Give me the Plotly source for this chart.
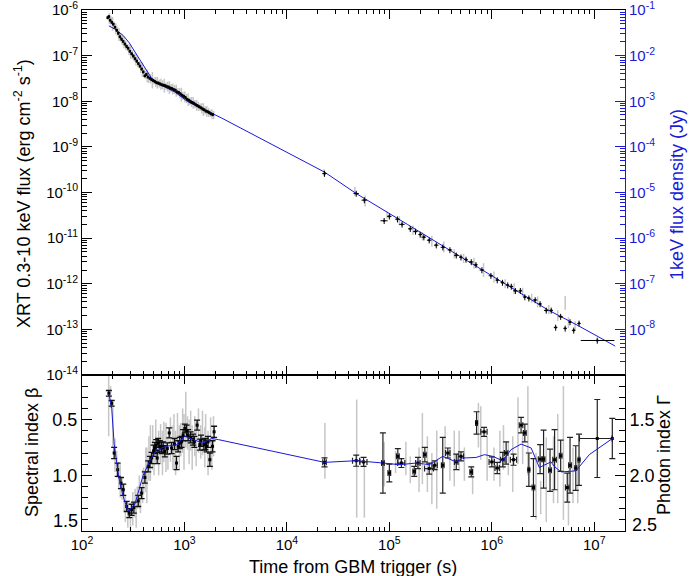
import plotly.graph_objects as go

# ---------------- DATA ----------------
# Top panel: XRT flux (erg cm^-2 s^-1), early dense phase (black)
top_early_t = [178, 183, 188, 195, 202, 210, 218, 226, 234, 243,
               252, 262, 272, 282, 293, 305, 317, 329, 342, 355,
               368, 382, 396, 410, 425, 440, 458, 476, 495, 515,
               535, 556, 578, 600, 624, 648, 673, 700, 727, 755,
               785, 815, 847, 880, 915, 950, 987, 1025, 1065, 1107,
               1150, 1195, 1240, 1290, 1340, 1392, 1446, 1502, 1560, 1620,
               1685, 1750, 1820, 1890]
top_early_f = [6.8e-7, 7.2e-7, 6.0e-7, 5.4e-7, 4.9e-7, 4.2e-7, 3.6e-7, 3.1e-7, 2.6e-7, 2.3e-7,
               2.05e-7, 1.8e-7, 1.6e-7, 1.45e-7, 1.25e-7, 1.1e-7, 9.8e-8, 8.6e-8, 7.6e-8, 6.7e-8,
               5.9e-8, 5.1e-8, 4.4e-8, 3.6e-8, 3.9e-8, 3.4e-8, 3.2e-8, 3.0e-8, 2.85e-8, 2.7e-8,
               2.55e-8, 2.5e-8, 2.4e-8, 2.3e-8, 2.25e-8, 2.2e-8, 2.1e-8, 2.05e-8, 1.95e-8, 1.9e-8,
               1.8e-8, 1.75e-8, 1.6e-8, 1.55e-8, 1.45e-8, 1.35e-8, 1.28e-8, 1.2e-8, 1.1e-8, 1.05e-8,
               9.8e-9, 9.4e-9, 9.0e-9, 8.4e-9, 8.0e-9, 7.6e-9, 7.2e-9, 6.8e-9, 6.5e-9, 6.1e-9,
               5.9e-9, 5.6e-9, 5.3e-9, 5.1e-9]

# Top panel grey (finer binning)
top_grey_t = [185, 192, 199, 206, 214, 222, 230, 238, 247, 257,
              267, 277, 288, 299, 311, 323, 336, 349, 362, 375,
              389, 403, 418, 433, 449, 467, 486, 505, 525, 545,
              567, 589, 612, 636, 660, 686, 713, 741, 770, 800,
              831, 863, 897, 932, 968, 1006, 1045, 1086, 1128, 1172,
              1217, 1265, 1315, 1366, 1419, 1474, 1531, 1590, 1652, 1717,
              1785, 1855, 1930,
              2.3e4, 4.6e4, 5.8e4, 9.5e4, 1.25e5, 1.7e5, 2.1e5, 2.6e5, 3.4e5, 4.3e5,
              5.3e5, 6.7e5, 8.3e5, 1.05e6, 1.35e6, 1.65e6, 2.0e6, 2.45e6, 2.8e6, 3.6e6,
              4.4e6, 5.2e6, 5.6e6, 6.5e6]
top_grey_f = [6.5e-7, 5.8e-7, 5.0e-7, 4.6e-7, 3.9e-7, 3.4e-7, 2.9e-7, 2.5e-7, 2.2e-7, 1.95e-7,
              1.7e-7, 1.5e-7, 1.35e-7, 1.2e-7, 1.05e-7, 9.2e-8, 8.2e-8, 7.2e-8, 6.3e-8, 5.5e-8,
              4.9e-8, 4.3e-8, 3.8e-8, 3.6e-8, 3.3e-8, 3.1e-8, 2.9e-8, 2.8e-8, 2.65e-8, 2.55e-8,
              2.45e-8, 2.35e-8, 2.3e-8, 2.2e-8, 2.15e-8, 2.1e-8, 2.0e-8, 1.95e-8, 1.85e-8, 1.8e-8,
              1.7e-8, 1.6e-8, 1.5e-8, 1.4e-8, 1.32e-8, 1.25e-8, 1.15e-8, 1.08e-8, 1.0e-8, 9.6e-9,
              9.2e-9, 8.7e-9, 8.2e-9, 7.8e-9, 7.4e-9, 7.0e-9, 6.6e-9, 6.3e-9, 6.0e-9, 5.7e-9,
              5.4e-9, 5.2e-9, 5.0e-9,
              2.7e-10, 1.05e-10, 6.5e-11, 3.2e-11, 2.4e-11, 1.5e-11, 1.1e-11, 8.5e-12, 6.4e-12, 4.5e-12,
              3.6e-12, 2.8e-12, 2.0e-12, 1.4e-12, 1.0e-12, 7.8e-13, 6.5e-13, 4.8e-13, 4.0e-13, 2.7e-13,
              2.0e-13, 3.8e-13, 1.4e-13, 1.2e-13]
top_grey_dex = [0.12, 0.10, 0.15, 0.08, 0.12, 0.10, 0.14, 0.09, 0.11, 0.13,
                0.10, 0.08, 0.12, 0.15, 0.10, 0.09, 0.13, 0.11, 0.08, 0.12,
                0.16, 0.10, 0.09, 0.14, 0.12, 0.10, 0.18, 0.08, 0.11, 0.13,
                0.09, 0.12, 0.10, 0.15, 0.08, 0.11, 0.14, 0.09, 0.12, 0.10,
                0.13, 0.08, 0.11, 0.15, 0.09, 0.12, 0.10, 0.14, 0.08, 0.11,
                0.13, 0.09, 0.12, 0.10, 0.08, 0.11, 0.14, 0.09, 0.12, 0.10,
                0.08, 0.11, 0.09,
                0.08, 0.10, 0.12, 0.08, 0.10, 0.10, 0.09, 0.12, 0.12, 0.10,
                0.10, 0.12, 0.15, 0.12, 0.10, 0.12, 0.10, 0.10, 0.12, 0.10,
                0.12, 0.15, 0.12, 0.10]

# Top panel late-time black points
top_late_t = [2.33e4, 4.75e4, 5.7e4, 8.9e4, 1.0e5, 1.2e5, 1.33e5, 1.6e5, 1.8e5, 2.0e5,
              2.17e5, 2.45e5, 2.87e5, 3.33e5, 3.9e5, 4.5e5, 5.0e5, 5.6e5, 6.3e5, 7.0e5,
              8.0e5, 9.8e5, 1.13e6, 1.27e6, 1.43e6, 1.55e6, 1.7e6, 1.9e6, 2.1e6, 2.3e6,
              2.65e6, 2.96e6, 3.4e6, 3.8e6, 4.2e6, 4.7e6, 5.2e6, 5.8e6, 6.3e6, 7.1e6,
              1.07e7]
top_late_f = [2.6e-10, 9.5e-11, 6.8e-11, 2.4e-11, 3.0e-11, 2.6e-11, 2.0e-11, 1.6e-11, 1.4e-11, 1.2e-11,
              1.05e-11, 9.0e-12, 7.0e-12, 6.3e-12, 5.5e-12, 4.2e-12, 3.8e-12, 3.4e-12, 3.0e-12, 2.6e-12,
              2.0e-12, 1.5e-12, 1.2e-12, 1.06e-12, 9.3e-13, 8.7e-13, 7.0e-13, 7.0e-13, 5.1e-13, 4.8e-13,
              4.4e-13, 3.6e-13, 2.6e-13, 2.6e-13, 1.1e-13, 1.9e-13, 1.05e-13, 1.45e-13, 9.5e-14, 1.35e-13,
              5.7e-14]
top_late_xlo = [0.05, 0.06, 0.06, 0.08, 0.05, 0.05, 0.06, 0.05, 0.05, 0.04,
                0.05, 0.05, 0.05, 0.05, 0.05, 0.05, 0.04, 0.04, 0.05, 0.04,
                0.05, 0.05, 0.04, 0.04, 0.04, 0.04, 0.05, 0.04, 0.04, 0.04,
                0.05, 0.04, 0.05, 0.04, 0.04, 0.05, 0.04, 0.04, 0.04, 0.04,
                0.31]
top_late_xhi = [0.05, 0.06, 0.06, 0.08, 0.05, 0.05, 0.06, 0.05, 0.05, 0.04,
                0.05, 0.05, 0.05, 0.05, 0.05, 0.05, 0.04, 0.04, 0.05, 0.04,
                0.05, 0.05, 0.04, 0.04, 0.04, 0.04, 0.05, 0.04, 0.04, 0.04,
                0.05, 0.04, 0.05, 0.04, 0.04, 0.05, 0.04, 0.04, 0.04, 0.04,
                0.47]
top_yerr_frac = 0.15
top_early_yerr_frac = 0.08

# Top panel model (blue)
top_model_t = [183, 210, 251, 290, 329, 370, 411, 477, 560, 650, 805, 1075, 1500, 2300,
               2.33e4, 4.75e4, 1.5e5, 5.6e5, 1.5e6, 3.5e6, 7e6, 1.6e7]
top_model_f = [4.5e-7, 3.8e-7, 2.8e-7, 1.9e-7, 1.2e-7, 7.8e-8, 5.2e-8, 3.2e-8, 2.4e-8, 2.0e-8,
               1.6e-8, 9.8e-9, 6.8e-9, 4.3e-9, 2.8e-10, 9.5e-11, 2.0e-11, 3.3e-12, 8.5e-13,
               2.7e-13, 1.2e-13, 4.3e-14]

# Bottom panel: spectral index beta (black points)
bot_t = [183, 195, 206, 223, 240, 253, 273, 289, 305, 321,
         354, 382, 411, 443, 460, 478, 500, 514, 530, 542,
         554, 575, 598, 620, 644, 680, 710, 749, 800, 837,
         868, 900, 937, 970, 1008, 1050, 1087, 1150, 1216, 1250,
         1330, 1413, 1450, 1546, 1600, 1642, 1700, 1770, 1879, 1947]
bot_b = [0.264, 0.354, 0.80, 0.95, 1.07, 1.13, 1.28, 1.34, 1.31, 1.29,
         1.23, 1.16, 1.02, 0.92, 0.88, 0.845, 0.78, 0.755, 0.73, 0.845,
         0.71, 0.74, 0.755, 0.75, 0.785, 0.76, 0.62, 0.755, 0.72, 0.89,
         0.74, 0.71, 0.70, 0.64, 0.58, 0.60, 0.64, 0.66, 0.68, 0.70,
         0.55, 0.725, 0.69, 0.725, 0.72, 0.74, 0.70, 0.86, 0.74, 0.61]
bot_e = [0.025, 0.025, 0.05, 0.06, 0.05, 0.05, 0.045, 0.04, 0.05, 0.05,
         0.05, 0.05, 0.05, 0.05, 0.05, 0.05, 0.05, 0.05, 0.05, 0.05,
         0.04, 0.05, 0.05, 0.05, 0.05, 0.05, 0.045, 0.05, 0.05, 0.06,
         0.05, 0.05, 0.05, 0.05, 0.04, 0.05, 0.05, 0.05, 0.05, 0.05,
         0.045, 0.05, 0.05, 0.05, 0.05, 0.05, 0.05, 0.06, 0.05, 0.05]

bot_late_t = [2.33e4, 4.75e4, 5.6e4, 8.65e4, 1.0e5, 1.21e5, 1.31e5, 1.75e5, 1.9e5, 2.22e5,
              2.45e5, 2.77e5, 3.32e5, 3.72e5, 4.5e5, 5.0e5, 6.3e5, 7.1e5, 8.4e5, 1.0e6,
              1.13e6, 1.28e6, 1.38e6, 1.63e6, 1.93e6, 2.1e6, 2.3e6, 2.55e6, 2.96e6, 3.2e6,
              3.7e6, 4.1e6, 4.7e6, 5.45e6, 5.8e6, 6.6e6, 7.1e6, 1.07e7, 1.5e7]
bot_late_b = [0.884, 0.869, 0.88, 0.89, 0.98, 0.83, 0.89, 0.965, 0.89, 0.815,
              0.94, 0.91, 0.91, 0.80, 0.88, 0.83, 0.97, 0.53, 0.61, 0.88,
              0.935, 0.86, 0.80, 0.86, 0.55, 0.62, 0.95, 1.11, 0.855, 0.855,
              0.955, 0.86, 0.825, 1.11, 0.91, 0.935, 0.86, 0.67, 0.67]
bot_late_e = [0.04, 0.05, 0.04, 0.27, 0.08, 0.07, 0.04, 0.045, 0.05, 0.065,
              0.05, 0.04, 0.25, 0.045, 0.07, 0.04, 0.045, 0.10, 0.04, 0.045,
              0.05, 0.065, 0.10, 0.05, 0.07, 0.08, 0.15, 0.26, 0.13, 0.26,
              0.19, 0.27, 0.14, 0.13, 0.25, 0.20, 0.23, 0.35, 0.18]
bot_late_xlo = [0.04, 0.08, 0.08, 0.03, 0.03, 0.03, 0.08, 0.03, 0.05, 0.03,
                0.10, 0.06, 0.03, 0.05, 0.04, 0.06, 0.03, 0.02, 0.07, 0.06,
                0.05, 0.05, 0.04, 0.07, 0.04, 0.03, 0.02, 0.03, 0.04, 0.03,
                0.03, 0.04, 0.03, 0.04, 0.03, 0.02, 0.02, 0.33, 0.0]
bot_late_xhi = [0.04, 0.08, 0.08, 0.03, 0.03, 0.03, 0.08, 0.03, 0.05, 0.03,
                0.10, 0.06, 0.03, 0.05, 0.04, 0.06, 0.03, 0.02, 0.07, 0.06,
                0.05, 0.05, 0.04, 0.07, 0.04, 0.03, 0.02, 0.03, 0.04, 0.03,
                0.03, 0.04, 0.03, 0.04, 0.03, 0.02, 0.02, 0.40, 0.0]

# Bottom panel grey (finer binning)
bot_grey_t = [182, 190, 200, 210, 218, 228, 236, 246, 258, 265,
              280, 297, 313, 330, 338, 346, 363, 372, 390, 400,
              420, 430, 450, 465, 490, 505, 525, 560, 585, 610,
              630, 660, 690, 730, 770, 790, 820, 855, 890, 920,
              960, 990, 1030, 1070, 1110, 1150, 1190, 1260, 1300, 1370,
              1440, 1500, 1580, 1610, 1700, 1800, 1850, 1920,
              2.35e4, 4.8e4, 5.7e4, 8.9e4, 1.15e5, 1.45e5, 1.6e5, 1.95e5, 2.1e5, 2.35e5,
              2.6e5, 2.9e5, 3.5e5, 3.9e5, 4.3e5, 4.8e5, 5.4e5, 6.5e5, 7.4e5, 7.8e5,
              9e5, 1.05e6, 1.2e6, 1.3e6, 1.45e6, 1.6e6, 1.8e6, 2.0e6, 2.25e6, 2.7e6,
              3.0e6, 3.4e6, 4.0e6, 4.4e6, 5.0e6, 5.6e6, 6.2e6, 6.9e6]
bot_grey_b = [0.35, 0.30, 0.55, 0.82, 0.90, 1.00, 1.05, 1.12, 1.20, 1.30,
              1.35, 1.38, 1.30, 1.25, 1.32, 1.20, 1.15, 1.22, 1.10, 1.05,
              0.95, 1.00, 0.85, 0.80, 0.75, 0.85, 0.70, 0.80, 0.72, 0.80,
              0.70, 0.75, 0.80, 0.68, 0.75, 0.70, 0.80, 0.62, 0.75, 0.68,
              0.60, 0.70, 0.50, 0.62, 0.70, 0.60, 0.75, 0.65, 0.72, 0.60,
              0.70, 0.62, 0.75, 0.60, 0.80, 0.68, 0.80, 0.65,
              0.78, 0.85, 1.13, 0.90, 0.88, 0.85, 0.95, 0.95, 0.76, 0.90,
              1.03, 0.95, 0.70, 0.90, 0.85, 0.78, 0.90, 1.05, 0.55, 0.62,
              0.85, 0.90, 0.85, 0.75, 0.85, 0.90, 0.60, 0.75, 0.60, 1.10,
              1.20, 1.04, 0.95, 0.85, 0.80, 1.20, 1.00, 1.05]
bot_grey_h = [0.30, 0.10, 0.20, 0.15, 0.12, 0.12, 0.15, 0.10, 0.12, 0.12,
              0.12, 0.12, 0.15, 0.13, 0.15, 0.10, 0.15, 0.12, 0.15, 0.12,
              0.20, 0.25, 0.20, 0.25, 0.20, 0.15, 0.20, 0.20, 0.18, 0.20,
              0.18, 0.22, 0.15, 0.20, 0.20, 0.25, 0.20, 0.18, 0.20, 0.15,
              0.20, 0.25, 0.25, 0.15, 0.20, 0.18, 0.20, 0.18, 0.20, 0.20,
              0.15, 0.20, 0.18, 0.15, 0.20, 0.20, 0.15, 0.18,
              0.25, 0.53, 0.25, 0.20, 0.10, 0.15, 0.12, 0.20, 0.32, 0.25,
              0.23, 0.35, 0.14, 0.15, 0.25, 0.18, 0.15, 0.12, 0.20, 0.24,
              0.20, 0.15, 0.25, 0.20, 0.15, 0.25, 0.30, 0.15, 0.40, 0.30,
              0.15, 0.38, 0.30, 0.40, 0.60, 0.25, 0.25, 0.20]

# Bottom panel model (blue)
bot_model_t = [183, 195, 206, 226, 243, 258, 282, 328, 395, 460, 533, 668, 837, 1008, 1216,
               1520, 1840, 2150,
               2.33e4, 4.75e4, 8.65e4, 1.26e5, 1.83e5, 2.46e5, 3.32e5, 4.49e5, 5.2e5, 7.03e5,
               8.47e5, 1.02e6, 1.28e6, 1.54e6, 1.93e6, 2.42e6, 2.91e6, 3.78e6, 4.07e6, 4.74e6,
               5.71e6, 6.63e6, 8.94e6, 1.53e7]
bot_model_b = [0.27, 0.40, 0.72, 0.99, 1.13, 1.22, 1.32, 1.26, 1.0, 0.87, 0.77, 0.74, 0.725, 0.65, 0.68,
               0.71, 0.67, 0.68,
               0.884, 0.869, 0.89, 0.905, 0.89, 0.905, 0.83, 0.88, 0.845, 0.84,
               0.815, 0.83, 0.87, 0.77, 0.72, 0.755, 0.93, 0.88, 0.92, 0.97,
               0.965, 0.96, 0.815, 0.665]

# Tick labels
x_major = [1e2, 1e3, 1e4, 1e5, 1e6, 1e7]
x_labels = ["10<sup>2</sup>", "10<sup>3</sup>", "10<sup>4</sup>", "10<sup>5</sup>",
            "10<sup>6</sup>", "10<sup>7</sup>"]
fl_major = [1e-14, 1e-13, 1e-12, 1e-11, 1e-10, 1e-9, 1e-8, 1e-7, 1e-6]
fl_labels = ["10<sup>-14</sup>", "10<sup>-13</sup>", "10<sup>-12</sup>", "10<sup>-11</sup>",
             "10<sup>-10</sup>", "10<sup>-9</sup>", "10<sup>-8</sup>", "10<sup>-7</sup>",
             "10<sup>-6</sup>"]
jy_major = [1e-8, 1e-7, 1e-6, 1e-5, 1e-4, 1e-3, 1e-2, 1e-1]
jy_labels = ["10<sup>-8</sup>", "10<sup>-7</sup>", "10<sup>-6</sup>", "10<sup>-5</sup>",
             "10<sup>-4</sup>", "10<sup>-3</sup>", "10<sup>-2</sup>", "10<sup>-1</sup>"]
beta_major = [0.5, 1.0, 1.5]
beta_labels = ["0.5", "1.0", ""]
gam_major = [1.5, 2.0, 2.5]
gam_labels = ["1.5", "2.0", ""]

# ---------------- STYLE ----------------
BLUE = "rgb(25,25,215)"
GREY = "#c6c6c6"
FONT = "Liberation Sans, Arial, Helvetica, sans-serif"
FS_TICK = 15
FS_TICK_B = 18
FS_TITLE = 18

x_minor = [m * 10 ** e for e in range(2, 8) for m in range(2, 10) if m * 10 ** e < 2e7]
fl_minor = [m * 10.0 ** e for e in range(-14, -6) for m in range(2, 10)]
jy_minor = [m * 10.0 ** e for e in range(-9, -1) for m in range(2, 10)]

fig = go.Figure()

# --- top panel ---
fig.add_trace(go.Scatter(
    x=top_grey_t, y=top_grey_f, mode="markers", xaxis="x2", yaxis="y2",
    marker=dict(size=1, color=GREY),
    error_y=dict(type="data", symmetric=False,
                 array=[f * (10 ** d - 1) for f, d in zip(top_grey_f, top_grey_dex)],
                 arrayminus=[f * (1 - 10 ** -d) for f, d in zip(top_grey_f, top_grey_dex)],
                 color=GREY, thickness=1.5, width=0),
    showlegend=False, hoverinfo="skip"))

fig.add_trace(go.Scatter(
    x=top_model_t, y=top_model_f, mode="lines", xaxis="x2", yaxis="y2",
    line=dict(color=BLUE, width=1), showlegend=False))

fig.add_trace(go.Scatter(
    x=top_early_t, y=top_early_f, mode="markers", xaxis="x2", yaxis="y2",
    marker=dict(size=2.5, color="black", symbol="square"),
    error_y=dict(type="data", array=[f * top_early_yerr_frac for f in top_early_f],
                 color="black", thickness=1, width=0),
    error_x=dict(type="data", array=[t * 0.012 for t in top_early_t],
                 color="black", thickness=1, width=0),
    showlegend=False))

fig.add_trace(go.Scatter(
    x=top_late_t, y=top_late_f, mode="markers", xaxis="x2", yaxis="y2",
    marker=dict(size=2, color="black", symbol="square"),
    error_y=dict(type="data", array=[f * top_yerr_frac for f in top_late_f],
                 color="black", thickness=1, width=0),
    error_x=dict(type="data", symmetric=False,
                 array=[t * a for t, a in zip(top_late_t, top_late_xhi)],
                 arrayminus=[t * a for t, a in zip(top_late_t, top_late_xlo)],
                 color="black", thickness=1, width=0),
    showlegend=False))

# dummy to register right axis of top panel
fig.add_trace(go.Scatter(x=[], y=[], xaxis="x2", yaxis="y3", showlegend=False))

# --- bottom panel ---
fig.add_trace(go.Scatter(
    x=bot_grey_t, y=bot_grey_b, mode="markers", xaxis="x", yaxis="y",
    marker=dict(size=1, color=GREY),
    error_y=dict(type="data", array=bot_grey_h, color=GREY, thickness=1.5, width=0),
    showlegend=False, hoverinfo="skip"))

fig.add_trace(go.Scatter(
    x=bot_t, y=bot_b, mode="markers", xaxis="x", yaxis="y",
    marker=dict(size=3, color="black", symbol="square"),
    error_y=dict(type="data", array=bot_e, color="#111", thickness=1.3, width=3),
    showlegend=False))

fig.add_trace(go.Scatter(
    x=bot_late_t, y=bot_late_b, mode="markers", xaxis="x", yaxis="y",
    marker=dict(size=3, color="black", symbol="square"),
    error_y=dict(type="data", array=bot_late_e, color="#222", thickness=1.2, width=3),
    error_x=dict(type="data", symmetric=False,
                 array=[t * a for t, a in zip(bot_late_t, bot_late_xhi)],
                 arrayminus=[t * a for t, a in zip(bot_late_t, bot_late_xlo)],
                 color="#222", thickness=1.2, width=3),
    showlegend=False))

fig.add_trace(go.Scatter(
    x=bot_model_t, y=bot_model_b, mode="lines", xaxis="x", yaxis="y",
    line=dict(color=BLUE, width=1), showlegend=False))

fig.add_trace(go.Scatter(x=[], y=[], xaxis="x", yaxis="y4", showlegend=False))

# ---------------- LAYOUT ----------------
split = 156 / 521

xcommon = dict(type="log", range=[2, 7.3], tickmode="array", tickvals=x_major,
               ticks="inside", ticklen=9, tickwidth=1, tickcolor="black",
               showline=True, linecolor="black", linewidth=1, mirror="ticks",
               showgrid=False, zeroline=False, automargin=False,
               ticklabeloverflow="allow",
               minor=dict(tickmode="array", tickvals=x_minor, ticks="inside",
                          ticklen=4, tickcolor="black", showgrid=False))

fig.update_layout(
    template="none",
    width=693, height=576,
    margin=dict(l=82, r=68, t=10, b=45, pad=0),
    paper_bgcolor="white", plot_bgcolor="white",
    font=dict(family=FONT, size=FS_TICK, color="black"),
    showlegend=False,
    xaxis=dict(**xcommon, domain=[0, 1], anchor="y", ticktext=x_labels,
               tickfont=dict(family=FONT, size=FS_TICK, color="black")),
    xaxis2=dict(**xcommon, domain=[0, 1], anchor="y2", matches="x",
                showticklabels=False),
    yaxis=dict(domain=[0, split], anchor="x", range=[1.5, 0.1],
               tickmode="array", tickvals=beta_major, ticktext=beta_labels,
               ticks="inside", ticklen=10, tickcolor="black", showline=True,
               linecolor="black", linewidth=1, showgrid=False, zeroline=False,
               automargin=False, ticklabeloverflow="allow",
               tickfont=dict(family=FONT, size=FS_TICK_B, color="black"),
               minor=dict(tickmode="linear", tick0=0.1, dtick=0.1, ticks="inside",
                          ticklen=6, tickcolor="black", showgrid=False)),
    yaxis4=dict(overlaying="y", side="right", anchor="x", range=[2.5, 1.1],
                tickmode="array", tickvals=gam_major, ticktext=gam_labels,
                ticks="inside", ticklen=10, tickcolor="black", showline=True,
                linecolor="black", linewidth=1, showgrid=False, zeroline=False,
                automargin=False, ticklabeloverflow="allow",
                tickfont=dict(family=FONT, size=FS_TICK_B, color="black"),
                minor=dict(tickmode="linear", tick0=1.1, dtick=0.1, ticks="inside",
                           ticklen=6, tickcolor="black", showgrid=False)),
    yaxis2=dict(domain=[split, 1], anchor="x2", type="log", range=[-14.0005, -5.9995],
                tickmode="array", tickvals=fl_major, ticktext=fl_labels,
                ticks="inside", ticklen=10, tickcolor="black", showline=True,
                linecolor="black", linewidth=1, showgrid=False, zeroline=False,
                automargin=False, ticklabeloverflow="allow",
                tickfont=dict(family=FONT, size=FS_TICK, color="black"),
                minor=dict(tickmode="array", tickvals=fl_minor, ticks="inside",
                           ticklen=5, tickcolor="black", showgrid=False)),
    yaxis3=dict(overlaying="y2", side="right", anchor="x2", type="log",
                range=[-9.0005, -0.9995],
                tickmode="array", tickvals=jy_major, ticktext=jy_labels,
                ticks="inside", ticklen=10, tickcolor=BLUE, showline=True,
                linecolor=BLUE, linewidth=1, showgrid=False, zeroline=False,
                automargin=False, ticklabeloverflow="allow",
                tickfont=dict(family=FONT, size=FS_TICK, color=BLUE),
                minor=dict(tickmode="array", tickvals=jy_minor, ticks="inside",
                           ticklen=5, tickcolor=BLUE, showgrid=False)),
)

ann = [
    dict(text="XRT 0.3-10 keV flux (erg cm<sup>-2</sup> s<sup>-1</sup>)",
         x=(22 - 82) / 543, y=(531 - 194) / 521, textangle=-90, color="black"),
    dict(text="1keV flux density (Jy)", x=(677 - 82) / 543, y=(531 - 195) / 521,
         textangle=-90, color=BLUE),
    dict(text="Spectral index β", x=(32 - 82) / 543, y=(531 - 453) / 521,
         textangle=-90, color="black"),
    dict(text="Photon index Γ", x=(664 - 82) / 543, y=(531 - 455) / 521,
         textangle=-90, color="black"),
    dict(text="Time from GBM trigger (s)", x=(353 - 82) / 543, y=(531 - 567) / 521,
         textangle=0, color="black"),
]
for a in ann:
    fig.add_annotation(text=a["text"], x=a["x"], y=a["y"], xref="paper", yref="paper",
                       textangle=a["textangle"], showarrow=False,
                       xanchor="center", yanchor="middle",
                       font=dict(family=FONT, size=FS_TITLE, color=a["color"]))

# shifted bottom tick labels (as in the original)
fig.add_annotation(text="1.5", x=(80 - 82) / 543, y=(531 - 521) / 521, xref="paper",
                   yref="paper", showarrow=False, xanchor="right", yanchor="middle",
                   font=dict(family=FONT, size=FS_TICK_B, color="black"))
fig.add_annotation(text="2.5", x=(630 - 82) / 543, y=(531 - 525) / 521, xref="paper",
                   yref="paper", showarrow=False, xanchor="left", yanchor="middle",
                   font=dict(family=FONT, size=FS_TICK_B, color="black"))

fig.write_html("out.html")
